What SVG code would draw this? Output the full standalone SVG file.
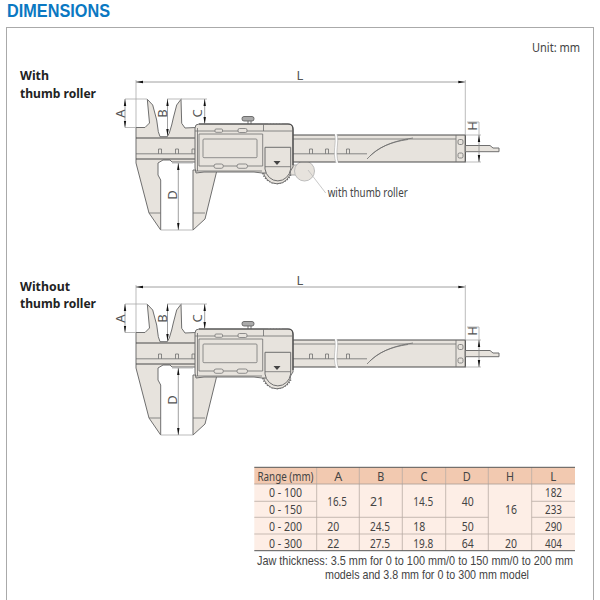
<svg xmlns="http://www.w3.org/2000/svg" width="600" height="600" viewBox="0 0 600 600">
<style>
text{font-family:"Noto Sans","Open Sans","Liberation Sans",sans-serif}
.b{fill:#e7e3dd;stroke:#6f6f6f;stroke-width:1}
.d{fill:none;stroke:#4a4a4a;stroke-width:1.2}
.t{fill:none;stroke:#6e6e6e;stroke-width:.8}
.w{fill:#e7e3dd;stroke:#777;stroke-width:.8}
.e{fill:none;stroke:#aaa;stroke-width:.8}
.m{fill:none;stroke:#888;stroke-width:.8;marker-start:url(#as);marker-end:url(#ae)}
.dl{font-size:13px;fill:#555;text-anchor:middle}
.h{font-size:13px;font-weight:700;fill:#222}
.c{font-size:13px;fill:#444;text-anchor:middle}
.s{font-size:13px;fill:#444}
.r{stroke:#b9aca4;stroke-width:.8;fill:none}
.n{font-family:"Liberation Sans",sans-serif;font-size:10px;fill:#444}
</style>
<defs>
<marker id="ae" markerWidth="7" markerHeight="6" refX="7" refY="2" orient="auto" markerUnits="userSpaceOnUse"><path d="M0 .8L7 2L0 3.2Z" fill="#111"/></marker>
<marker id="as" markerWidth="7" markerHeight="6" refX="0" refY="2" orient="auto" markerUnits="userSpaceOnUse"><path d="M7 .8L0 2L7 3.2Z" fill="#111"/></marker>
<g id="caliper">
<path class="b" d="M136 127.500H145L149.500 123L147.300 99.300L152.700 105L156.700 120L158.300 131.700L160 136.700H167.300L169.300 133L171.700 125L173.300 118L176.700 105L181 99.300L181.700 123.300L185 128L196 127.500V162H172L170 160H163L158 163V175L160.700 180V230L149 213L136 163Z"/>
<path class="b" d="M193 170H217L205 219L193 230Z"/>
<path class="t" d="M149 213H160.700M193 213H205"/>
<rect x="293" y="135" width="172.300" height="27" fill="#e7e3dd"/>
<path class="d" d="M293 135H465.300V162H293M136 138H196M136 159H196"/>
<path class="t" d="M293 139H456M293 153.800H367M136 153.800H196M456 135V162M413 138C392 141 378 147 367 159M408 139.500C390 142 378 148 370 156"/>
<path class="t" d="M158.500 153.800V149H161.500V153.800M175.500 153.800V149H178.500V153.800M192 153.800V149H195V153.800M309.500 153.800V149H312.500V153.800M325.500 153.800V149H328.500V153.800M346.500 153.800V149H349.500V153.800"/>
<path d="M334.500 133C337 143 332 151 336 164H338.500C334.500 151 339.500 143 337 133Z" fill="#fff"/>
<path d="M334.500 134C337 143 332 151 336 163M337 134C339.500 143 334.500 151 338.500 163" fill="none" stroke="#999" stroke-width=".5"/>
<rect class="t" x="458" y="139.500" width="5" height="5" rx="1.500"/>
<rect class="t" x="458" y="153" width="5" height="5" rx="1.500"/>
<path class="b" d="M465.300 145.500H490L493 148H499V151.700H465.300Z"/>
<path d="M263 173A14.800 14.800 0 0 0 291 173" fill="none" stroke="#666" stroke-width="2.400" stroke-dasharray="1.200 1.400"/>
<circle class="b" cx="277" cy="170" r="13.800"/>
<path d="M248 117.500V125M251 117.500V125" stroke="#777" stroke-width="1" fill="#e7e3dd"/>
<rect x="242" y="116.500" width="12" height="4.500" rx="2" fill="#aaa" stroke="#555" stroke-width=".8"/>
<path class="b" d="M199 124H288Q293 124 293 129V167L289 173H262L254 172H204L196 173L195 168V128Q195 124 199 124Z"/>
<path class="d" d="M199 124H288Q293 124 293 129V165"/>
<path class="t" d="M195 131H292M263.500 124V131M197.500 128V171M199 134H262.700V166H199ZM196 171H262"/>
<rect class="w" x="203" y="139" width="54" height="18.700" rx="1"/>
<rect class="w" x="215" y="129" width="7.500" height="3.300" rx="1"/>
<rect class="w" x="238" y="128.500" width="9" height="4" rx="1.500"/>
<rect class="w" x="214" y="164" width="9.300" height="4.300" rx="2"/>
<rect class="w" x="237" y="164" width="10.500" height="4.300" rx="2"/>
<path class="b" d="M265 147.300H290.700V169A13 14 0 0 1 265 169Z"/>
<path class="t" d="M265 166.700H290.700"/>
<path d="M273.500 161H280.500L277 165Z" fill="#444"/>
<path d="M269 124V123M272 124V123M275 124V123M278 124V123M281 124V123" stroke="#999" stroke-width=".8"/>
</g>
<g id="dims">
<path class="e" d="M136 80V127M465.300 80V135M125 99H147M125 127.500H136M167 99H182M181 99H207M465.300 135H481M465.300 162H481M467 122H479M160.700 230H193M172 163H193"/>
<path class="m" d="M136 82H465.300"/>
<path class="m" d="M125 99V127.500"/>
<path class="m" d="M167.500 99V136"/>
<path class="m" d="M204.700 99V124"/>
<path class="m" d="M178.300 163V230"/>
<path class="m" d="M479 135V162"/>
<path class="e" d="M479 122V135"/>
</g>
</defs>

<rect id="frame" x="6.500" y="27.500" width="587" height="590" fill="#fff" stroke="#aaa" stroke-width="1"/>
<text x="7" y="17" font-size="18" font-weight="700" fill="#0a78c2" style="font-family:'Liberation Sans',sans-serif" textLength="103" lengthAdjust="spacingAndGlyphs">DIMENSIONS</text>
<text x="532" y="51.500" font-size="12" fill="#444" textLength="48" lengthAdjust="spacingAndGlyphs">Unit: mm</text>

<g id="with-roller">
<text class="h" x="20" y="80" textLength="29" lengthAdjust="spacingAndGlyphs">With</text>
<text class="h" x="20" y="98" textLength="76" lengthAdjust="spacingAndGlyphs">thumb roller</text>
<rect x="290" y="165" width="8" height="10" fill="#e7e3dd" stroke="#888" stroke-width=".7"/>
<circle cx="304.500" cy="171" r="10" fill="#e7e3dd" stroke="#b5b5b5" stroke-width=".9"/>
<use href="#caliper"/>
<use href="#dims"/>
<path d="M308 170L325.700 193" fill="none" stroke="#bbb" stroke-width=".8"/>
<text x="327.700" y="196.500" font-size="12" fill="#444" textLength="80" lengthAdjust="spacingAndGlyphs">with thumb roller</text>
<text x="300" y="79.500" class="dl">L</text>
<text class="dl" transform="translate(125 113.500) rotate(-90)">A</text>
<text class="dl" transform="translate(166.500 113.500) rotate(-90)">B</text>
<text class="dl" transform="translate(201.500 113.500) rotate(-90)">C</text>
<text class="dl" transform="translate(177 195) rotate(-90)">D</text>
<text class="dl" transform="translate(477 126) rotate(-90)">H</text>
</g>

<g id="without-roller">
<text class="h" x="20" y="291" textLength="50" lengthAdjust="spacingAndGlyphs">Without</text>
<text class="h" x="20" y="308" textLength="76" lengthAdjust="spacingAndGlyphs">thumb roller</text>
<g transform="translate(0 205)">
<use href="#caliper"/>
<use href="#dims"/>
<text x="300" y="79.500" class="dl">L</text>
<text class="dl" transform="translate(125 113.500) rotate(-90)">A</text>
<text class="dl" transform="translate(166.500 113.500) rotate(-90)">B</text>
<text class="dl" transform="translate(201.500 113.500) rotate(-90)">C</text>
<text class="dl" transform="translate(177 195) rotate(-90)">D</text>
<text class="dl" transform="translate(477 126) rotate(-90)">H</text>
</g>
</g>

<g id="spec-table">
<rect x="254.300" y="467.300" width="320.700" height="16.700" fill="#f2c9b0"/>
<rect x="254.300" y="484" width="320.700" height="66.700" fill="#fdeee6"/>
<path class="r" d="M316.700 467.300V550.700M359.300 467.300V550.700M402.300 467.300V550.700M445.700 467.300V550.700M488.300 467.300V550.700M531.700 467.300V550.700"/>
<path class="r" d="M254.300 501.300H316.700M531.700 501.300H575M254.300 517.300H488.300M531.700 517.300H575M254.300 534H575"/>
<path d="M254.300 467.300H575M254.300 550.700H575" stroke="#555" stroke-width="1" fill="none"/>
<path d="M254.300 484H575" stroke="#a89c94" stroke-width=".8" fill="none"/>
<text class="c" x="285.500" y="480.500" textLength="56" lengthAdjust="spacingAndGlyphs">Range (mm)</text>
<text class="c" x="338.300" y="480.500" textLength="8" lengthAdjust="spacingAndGlyphs">A</text>
<text class="c" x="380.700" y="480.500" textLength="7" lengthAdjust="spacingAndGlyphs">B</text>
<text class="c" x="424" y="480.500" textLength="7" lengthAdjust="spacingAndGlyphs">C</text>
<text class="c" x="466.700" y="480.500" textLength="8" lengthAdjust="spacingAndGlyphs">D</text>
<text class="c" x="510" y="480.500" textLength="8" lengthAdjust="spacingAndGlyphs">H</text>
<text class="c" x="553.300" y="480.500" textLength="6" lengthAdjust="spacingAndGlyphs">L</text>
<text class="c" x="285.500" y="497" textLength="33" lengthAdjust="spacingAndGlyphs">0 - 100</text>
<text class="c" x="285.500" y="514" textLength="33" lengthAdjust="spacingAndGlyphs">0 - 150</text>
<text class="c" x="285.500" y="531" textLength="33" lengthAdjust="spacingAndGlyphs">0 - 200</text>
<text class="c" x="285.500" y="547.500" textLength="33" lengthAdjust="spacingAndGlyphs">0 - 300</text>
<text class="s" x="327.300" y="506" textLength="19.500" lengthAdjust="spacingAndGlyphs">16.5</text>
<text class="s" x="370" y="506" textLength="14" lengthAdjust="spacingAndGlyphs">21</text>
<text class="s" x="413.300" y="506" textLength="20" lengthAdjust="spacingAndGlyphs">14.5</text>
<text class="s" x="461.700" y="506" textLength="12" lengthAdjust="spacingAndGlyphs">40</text>
<text class="s" x="505" y="514" textLength="12" lengthAdjust="spacingAndGlyphs">16</text>
<text class="s" x="545" y="497" textLength="17" lengthAdjust="spacingAndGlyphs">182</text>
<text class="s" x="545" y="514" textLength="17" lengthAdjust="spacingAndGlyphs">233</text>
<text class="s" x="327.300" y="531" textLength="12" lengthAdjust="spacingAndGlyphs">20</text>
<text class="s" x="370" y="531" textLength="20" lengthAdjust="spacingAndGlyphs">24.5</text>
<text class="s" x="413.300" y="531" textLength="12" lengthAdjust="spacingAndGlyphs">18</text>
<text class="s" x="461.700" y="531" textLength="12" lengthAdjust="spacingAndGlyphs">50</text>
<text class="s" x="545" y="531" textLength="17" lengthAdjust="spacingAndGlyphs">290</text>
<text class="s" x="327.300" y="547.500" textLength="12" lengthAdjust="spacingAndGlyphs">22</text>
<text class="s" x="370" y="547.500" textLength="20" lengthAdjust="spacingAndGlyphs">27.5</text>
<text class="s" x="413.300" y="547.500" textLength="20" lengthAdjust="spacingAndGlyphs">19.8</text>
<text class="s" x="461.700" y="547.500" textLength="12" lengthAdjust="spacingAndGlyphs">64</text>
<text class="s" x="505" y="547.500" textLength="12" lengthAdjust="spacingAndGlyphs">20</text>
<text class="s" x="545" y="547.500" textLength="17" lengthAdjust="spacingAndGlyphs">404</text>
<text class="n" transform="translate(257 565) scale(1 1.2)" textLength="316" lengthAdjust="spacingAndGlyphs">Jaw thickness: 3.5 mm for 0 to 100 mm/0 to 150 mm/0 to 200 mm</text>
<text class="n" transform="translate(325 579) scale(1 1.2)" textLength="204" lengthAdjust="spacingAndGlyphs">models and 3.8 mm for 0 to 300 mm model</text>
</g>
</svg>
